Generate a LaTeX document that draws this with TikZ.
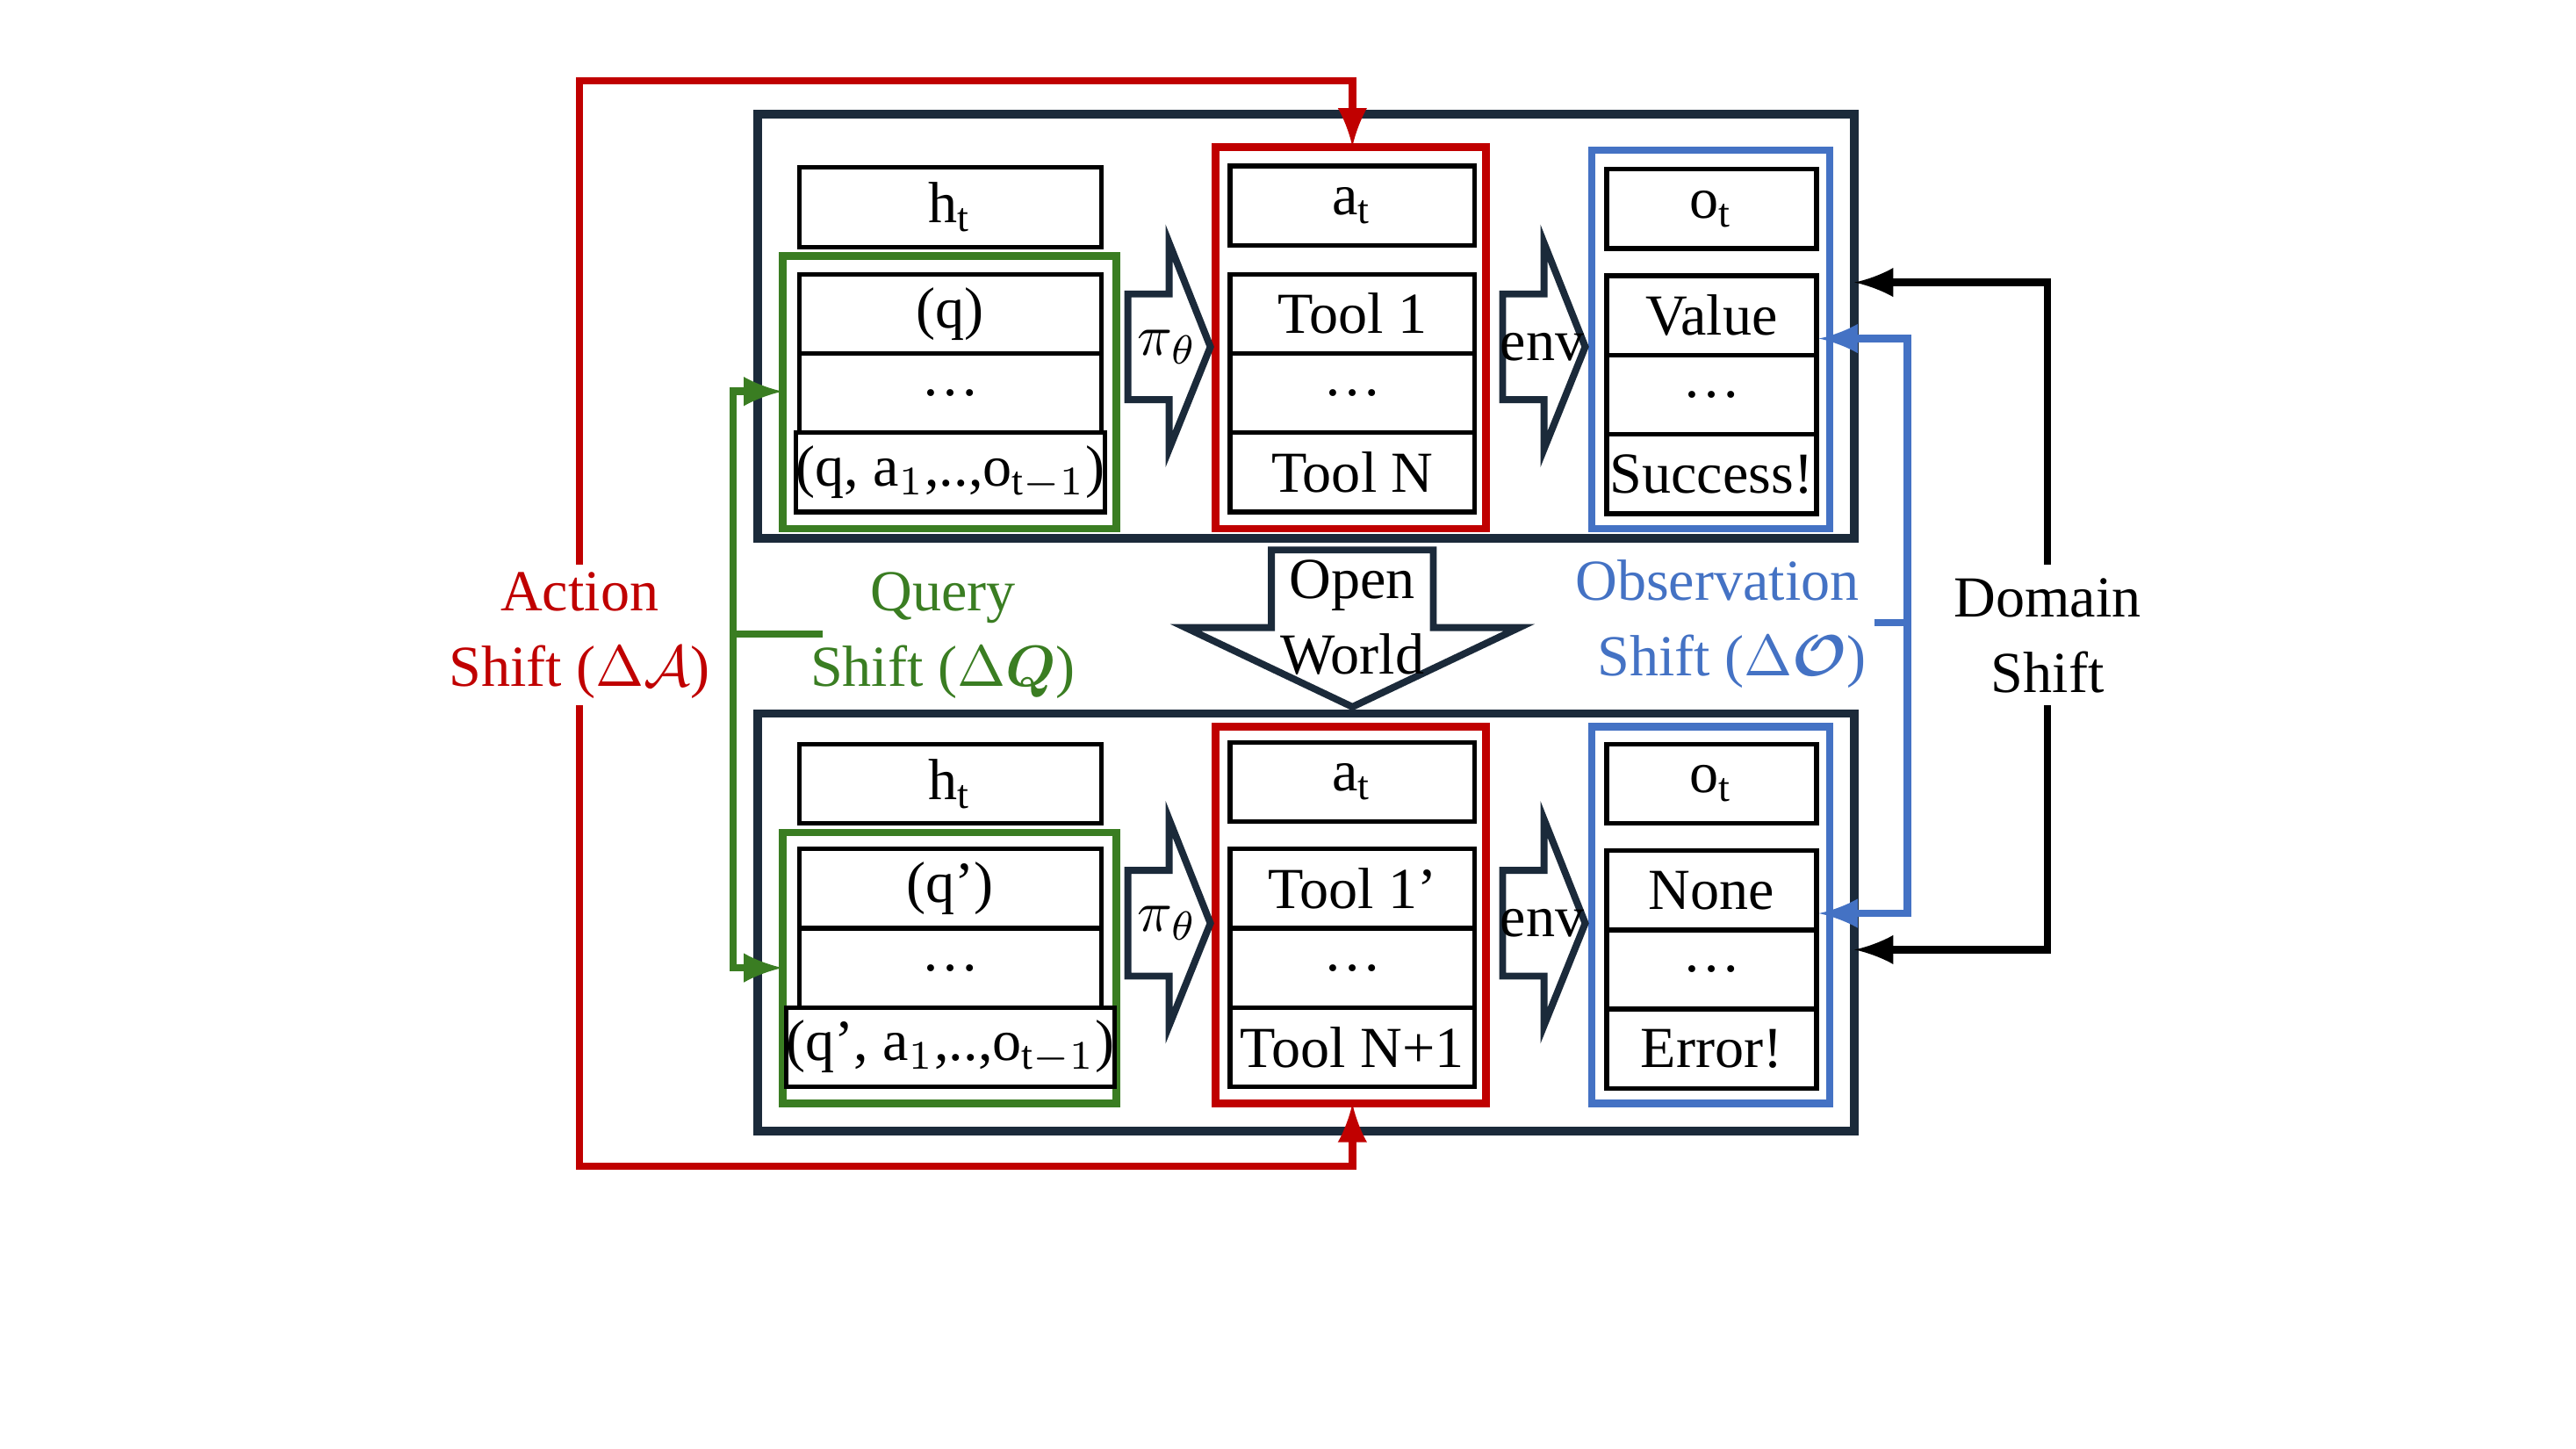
\documentclass[tikz,border=0pt]{standalone}
\usepackage{fontspec}
\usepackage{bm}
\setmainfont{Liberation Serif}
\usepackage{tikz}
\definecolor{navy}{HTML}{1B2A3A}
\definecolor{actred}{HTML}{C00000}
\definecolor{qgreen}{HTML}{3A7D22}
\definecolor{obsblue}{HTML}{4472C4}
\begin{document}
\begin{tikzpicture}[
                    x=0.01cm, y=-0.01cm,
                    every node/.style={font=\fontsize{10}{12}\selectfont},
                    cell/.style={draw, thick, minimum height=0.48cm, inner sep=0pt},
                    frame/.style={draw, line width=1.3pt, minimum width=#1, inner sep=0pt},
                    outer/.style={draw=navy, line width=1.5pt},
                    blockarrow/.style={draw=navy, line width=1.2pt, fill=white, line join=miter},
                    link/.style={line width=1.3pt, -latex}
                ]
                    \useasboundingbox (0,0) rectangle (1560,877);

                    % outer frames
                    \draw[outer] (459,69) rectangle (1123,326);
                    \draw[outer] (459,432) rectangle (1123,685);

                    % top row
                    \draw[frame, qgreen] (474,155) rectangle (676,320);
                    \draw[frame, actred] (736,89) rectangle (900,320);
                    \draw[frame, obsblue] (964,91) rectangle (1108,320);
                    \node[cell, minimum width=1.83cm] (ht1) at (575.5,125.5) {h$_\mathrm{t}$};
                    \node[cell, minimum width=1.83cm] (q1) at (575.5,190) {(q)};
                    \node[cell, minimum width=1.83cm] (qd1) at (575.5,238) {\dots};
                    \node[cell, minimum width=1.83cm] (qn1) at (575.5,286) {(q, a$_1$,..,o$_{\mathrm{t}-1}$)};
                    \node[cell, minimum width=1.48cm] (at1) at (819,124.5) {a$_\mathrm{t}$};
                    \node[cell, minimum width=1.48cm] (t1) at (819,190) {Tool 1};
                    \node[cell, minimum width=1.48cm] (td1) at (819,238) {\dots};
                    \node[cell, minimum width=1.48cm] (tn1) at (819,286) {Tool N};
                    \node[cell, minimum width=1.27cm] (ot1) at (1036.5,126.5) {o$_\mathrm{t}$};
                    \node[cell, minimum width=1.27cm] (v1) at (1036.5,191) {Value};
                    \node[cell, minimum width=1.27cm] (vd1) at (1036.5,239) {\dots};
                    \node[cell, minimum width=1.27cm] (vn1) at (1036.5,287) {Success!};

                    % bottom row
                    \draw[frame, qgreen] (474,504) rectangle (676,668);
                    \draw[frame, actred] (736,440) rectangle (900,668);
                    \draw[frame, obsblue] (964,440) rectangle (1108,668);
                    \node[cell, minimum width=1.83cm] (ht2) at (575.5,474.5) {h$_\mathrm{t}$};
                    \node[cell, minimum width=1.83cm] (q2) at (575.5,538) {(q')};
                    \node[cell, minimum width=1.83cm] (qd2) at (575.5,586) {\dots};
                    \node[cell, minimum width=1.83cm] (qn2) at (575.5,634) {(q', a$_1$,..,o$_{\mathrm{t}-1}$)};
                    \node[cell, minimum width=1.48cm] (at2) at (819,473.5) {a$_\mathrm{t}$};
                    \node[cell, minimum width=1.48cm] (t2) at (819,538) {Tool 1'};
                    \node[cell, minimum width=1.48cm] (td2) at (819,586) {\dots};
                    \node[cell, minimum width=1.48cm] (tn2) at (819,634) {Tool N+1};
                    \node[cell, minimum width=1.27cm] (ot2) at (1036.5,474.5) {o$_\mathrm{t}$};
                    \node[cell, minimum width=1.27cm] (v2) at (1036.5,539) {None};
                    \node[cell, minimum width=1.27cm] (vd2) at (1036.5,587) {\dots};
                    \node[cell, minimum width=1.27cm] (vn2) at (1036.5,635) {Error!};

                    % block arrows
                    \foreach \yy/\lab/\xx in {0/{$\pi_\theta$}/683, 0/env/910, 349/{$\pi_\theta$}/683, 349/env/910} {
                        \draw[blockarrow] (\xx,178+\yy) -- (\xx+25,178+\yy) -- (\xx+25,147+\yy) -- (\xx+50,210+\yy)
                            -- (\xx+25,272+\yy) -- (\xx+25,242+\yy) -- (\xx,242+\yy) -- cycle;
                        \node at (\xx+24,210+\yy) {\lab};
                    }
                    \draw[blockarrow] (770,333) -- (868,333) -- (868,380) -- (920,380) -- (819,428)
                        -- (718,380) -- (770,380) -- cycle;
                    \node[align=center, font=\fontsize{10}{13}\selectfont] (open) at (819,374) {Open\\World};

                    % labels
                    \node[align=center, text=actred, font=\fontsize{10}{13}\selectfont] (act) at (351,385) {Action\\Shift ($\Delta\mathcal{A}$)};
                    \node[align=center, text=qgreen, font=\fontsize{10}{13}\selectfont] (qry) at (571,385) {Query\\Shift ($\Delta\bm{Q}$)};
                    \node[align=center, text=obsblue, font=\fontsize{10}{13}\selectfont] (obs) at (1040,378) {Observation\\\ \ Shift ($\Delta\bm{\mathcal{O}}$)};
                    \node[align=center, font=\fontsize{10}{13}\selectfont] (dom) at (1240,385) {Domain\\Shift};

                    % shift connectors
                    \coordinate (ja) at (351,342);
                    \coordinate (jb) at (351,427);
                    \draw[link, actred] (ja) |- (819,49) -- (at1.north |- 0,89);
                    \draw[link, actred] (jb) |- (819,706) -- (819,668);
                    \coordinate (jq) at (498,384);
                    \draw[qgreen, line width=1.3pt] (jq) -- (444,384);
                    \draw[link, qgreen] (444,384) |- (474,237);
                    \draw[link, qgreen] (444,384) |- (474,586);
                    \coordinate (jo) at (1135,377);
                    \draw[obsblue, line width=1.3pt] (jo) -- (1155,377);
                    \draw[link, obsblue] (1155,377) |- (v1.east |- 0,205);
                    \draw[link, obsblue] (1155,377) |- (v2.east |- 0,553);
                    \coordinate (jd) at (1240,342);
                    \coordinate (je) at (1240,427);
                    \draw[link, black] (jd) |- (1123,171);
                    \draw[link, black] (je) |- (1123,575);
                \end{tikzpicture}
\end{document}
